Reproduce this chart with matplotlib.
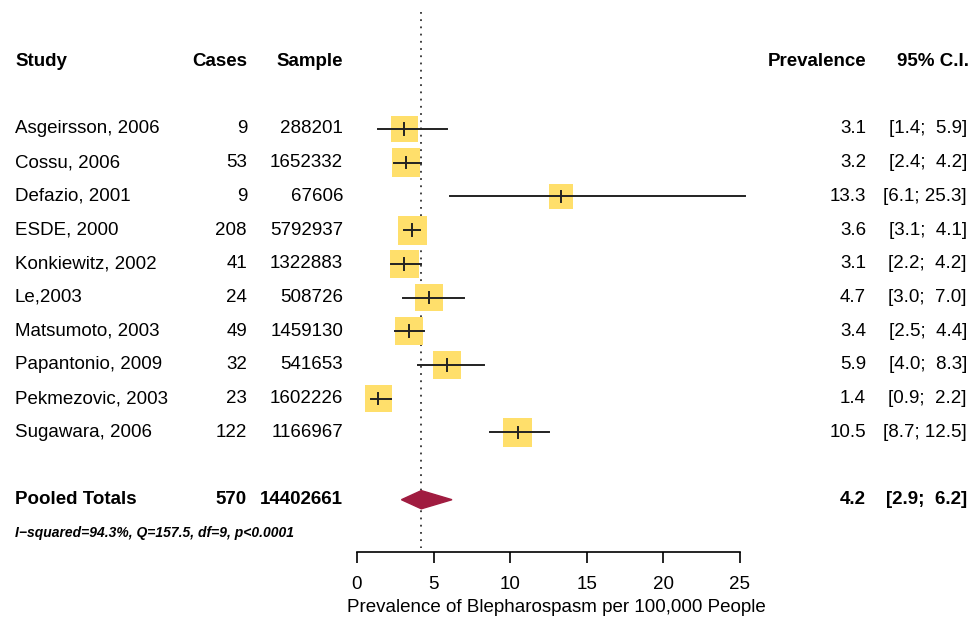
import matplotlib
matplotlib.use("Agg")
import matplotlib.pyplot as plt
from matplotlib.transforms import blended_transform_factory
import numpy as np

plt.rcParams['font.family'] = ['Liberation Sans', 'DejaVu Sans']

studies = ["Asgeirsson, 2006", "Cossu, 2006", "Defazio, 2001", "ESDE, 2000",
           "Konkiewitz, 2002", "Le,2003", "Matsumoto, 2003", "Papantonio, 2009",
           "Pekmezovic, 2003", "Sugawara, 2006"]
cases = [9, 53, 9, 208, 41, 24, 49, 32, 23, 122]
samples = [288201, 1652332, 67606, 5792937, 1322883, 508726, 1459130, 541653, 1602226, 1166967]
prevalence = [3.1, 3.2, 13.3, 3.6, 3.1, 4.7, 3.4, 5.9, 1.4, 10.5]
ci_low = [1.4, 2.4, 6.1, 3.1, 2.2, 3.0, 2.5, 4.0, 0.9, 8.7]
ci_high = [5.9, 4.2, 25.3, 4.1, 4.2, 7.0, 4.4, 8.3, 2.2, 12.5]
weights = [8.9, 10.7, 7.8, 11.0, 10.5, 9.7, 10.6, 10.2, 9.0, 10.9]

pooled_cases = 570
pooled_sample = 14402661
pooled_prev = 4.2
pooled_low = 2.9
pooled_high = 6.2
het_text = "I\u2212squared=94.3%, Q=157.5, df=9, p<0.0001"
xticks = [0, 5, 10, 15, 20, 25]
xlabel = "Prevalence of Blepharospasm per 100,000 People"

W, H = 973, 621
fig = plt.figure(figsize=(W / 100, H / 100), dpi=100)
ax_left, ax_right = 357, 740
ax_bottom_px = 552
ax = fig.add_axes([ax_left / W, (H - ax_bottom_px) / H, (ax_right - ax_left) / W, ax_bottom_px / H])

def prow(p):
    return (p - 129) / 33.7 + 1

fs = 13.5
ax.set_xlim(0, 25)
ax.set_ylim(prow(ax_bottom_px), prow(0))
for s in ['top', 'right', 'left']:
    ax.spines[s].set_visible(False)
ax.spines['bottom'].set_bounds(0, 25)
ax.spines['bottom'].set_linewidth(1.2)
ax.set_yticks([])
ax.set_xticks(xticks)
ax.set_xticklabels([str(t) for t in xticks])
ax.tick_params(axis='x', length=8, width=1.2, pad=9, labelsize=fs)
ax.set_xlabel(xlabel, fontsize=fs)
ax.xaxis.set_label_coords(0.52, -0.086)
ax.patch.set_visible(False)

rows = np.arange(1, len(studies) + 1)
pooled_row = 12
header_row = -1
het_row = 13

# reference line
ax.plot([pooled_prev, pooled_prev], [prow(12), prow(548)], ls=(0, (1, 3)), color='#333333', lw=1.3, zorder=1, clip_on=False)

yellow = '#FFDF6B'
for r, p, lo, hi, w in zip(rows, prevalence, ci_low, ci_high, weights):
    side_pt = 8.74 * np.sqrt(w) * 0.72
    ax.scatter([p], [r], marker='s', s=side_pt ** 2, color=yellow, edgecolor='none', zorder=2, clip_on=False)
    ax.plot([lo, hi], [r, r], color='#222222', lw=1.4, zorder=3, clip_on=False)
    ax.plot([p, p], [r - 0.17, r + 0.17], color='#222222', lw=1.4, zorder=3, clip_on=False)

# diamond
dh = 0.27
ax.fill([pooled_low, pooled_prev, pooled_high, pooled_prev],
        [pooled_row, pooled_row - dh, pooled_row, pooled_row + dh],
        color='#A01C40', zorder=3, clip_on=False)

tr = blended_transform_factory(fig.transFigure, ax.transData)
def fx(px):
    return px / W

ax.text(fx(15), header_row, "Study", transform=tr, ha='left', va='center', fontsize=fs, fontweight='bold')
ax.text(fx(247), header_row, "Cases", transform=tr, ha='right', va='center', fontsize=fs, fontweight='bold')
ax.text(fx(343), header_row, "Sample", transform=tr, ha='right', va='center', fontsize=fs, fontweight='bold')
ax.text(fx(866), header_row, "Prevalence", transform=tr, ha='right', va='center', fontsize=fs, fontweight='bold')
ax.text(fx(897), header_row, "95% C.I.", transform=tr, ha='left', va='center', fontsize=fs, fontweight='bold')

for r, st, c, n, p, lo, hi in zip(rows, studies, cases, samples, prevalence, ci_low, ci_high):
    ax.text(fx(15), r, st, transform=tr, ha='left', va='center', fontsize=fs)
    ax.text(fx(247), r, str(c), transform=tr, ha='right', va='center', fontsize=fs)
    ax.text(fx(343), r, str(n), transform=tr, ha='right', va='center', fontsize=fs)
    ax.text(fx(866), r, f"{p:.1f}", transform=tr, ha='right', va='center', fontsize=fs)
    ax.text(fx(967), r, f"[{lo:.1f}; {hi:4.1f}]", transform=tr, ha='right', va='center', fontsize=fs)

ax.text(fx(15), pooled_row, "Pooled Totals", transform=tr, ha='left', va='center', fontsize=fs, fontweight='bold')
ax.text(fx(247), pooled_row, str(pooled_cases), transform=tr, ha='right', va='center', fontsize=fs, fontweight='bold')
ax.text(fx(343), pooled_row, str(pooled_sample), transform=tr, ha='right', va='center', fontsize=fs, fontweight='bold')
ax.text(fx(866), pooled_row, f"{pooled_prev:.1f}", transform=tr, ha='right', va='center', fontsize=fs, fontweight='bold')
ax.text(fx(967), pooled_row, f"[{pooled_low:.1f}; {pooled_high:4.1f}]", transform=tr, ha='right', va='center', fontsize=fs, fontweight='bold')
ax.text(fx(15), het_row, het_text, transform=tr, ha='left', va='center', fontsize=10, fontweight='bold', fontstyle='italic')

fig.savefig("out.png", dpi=100)
